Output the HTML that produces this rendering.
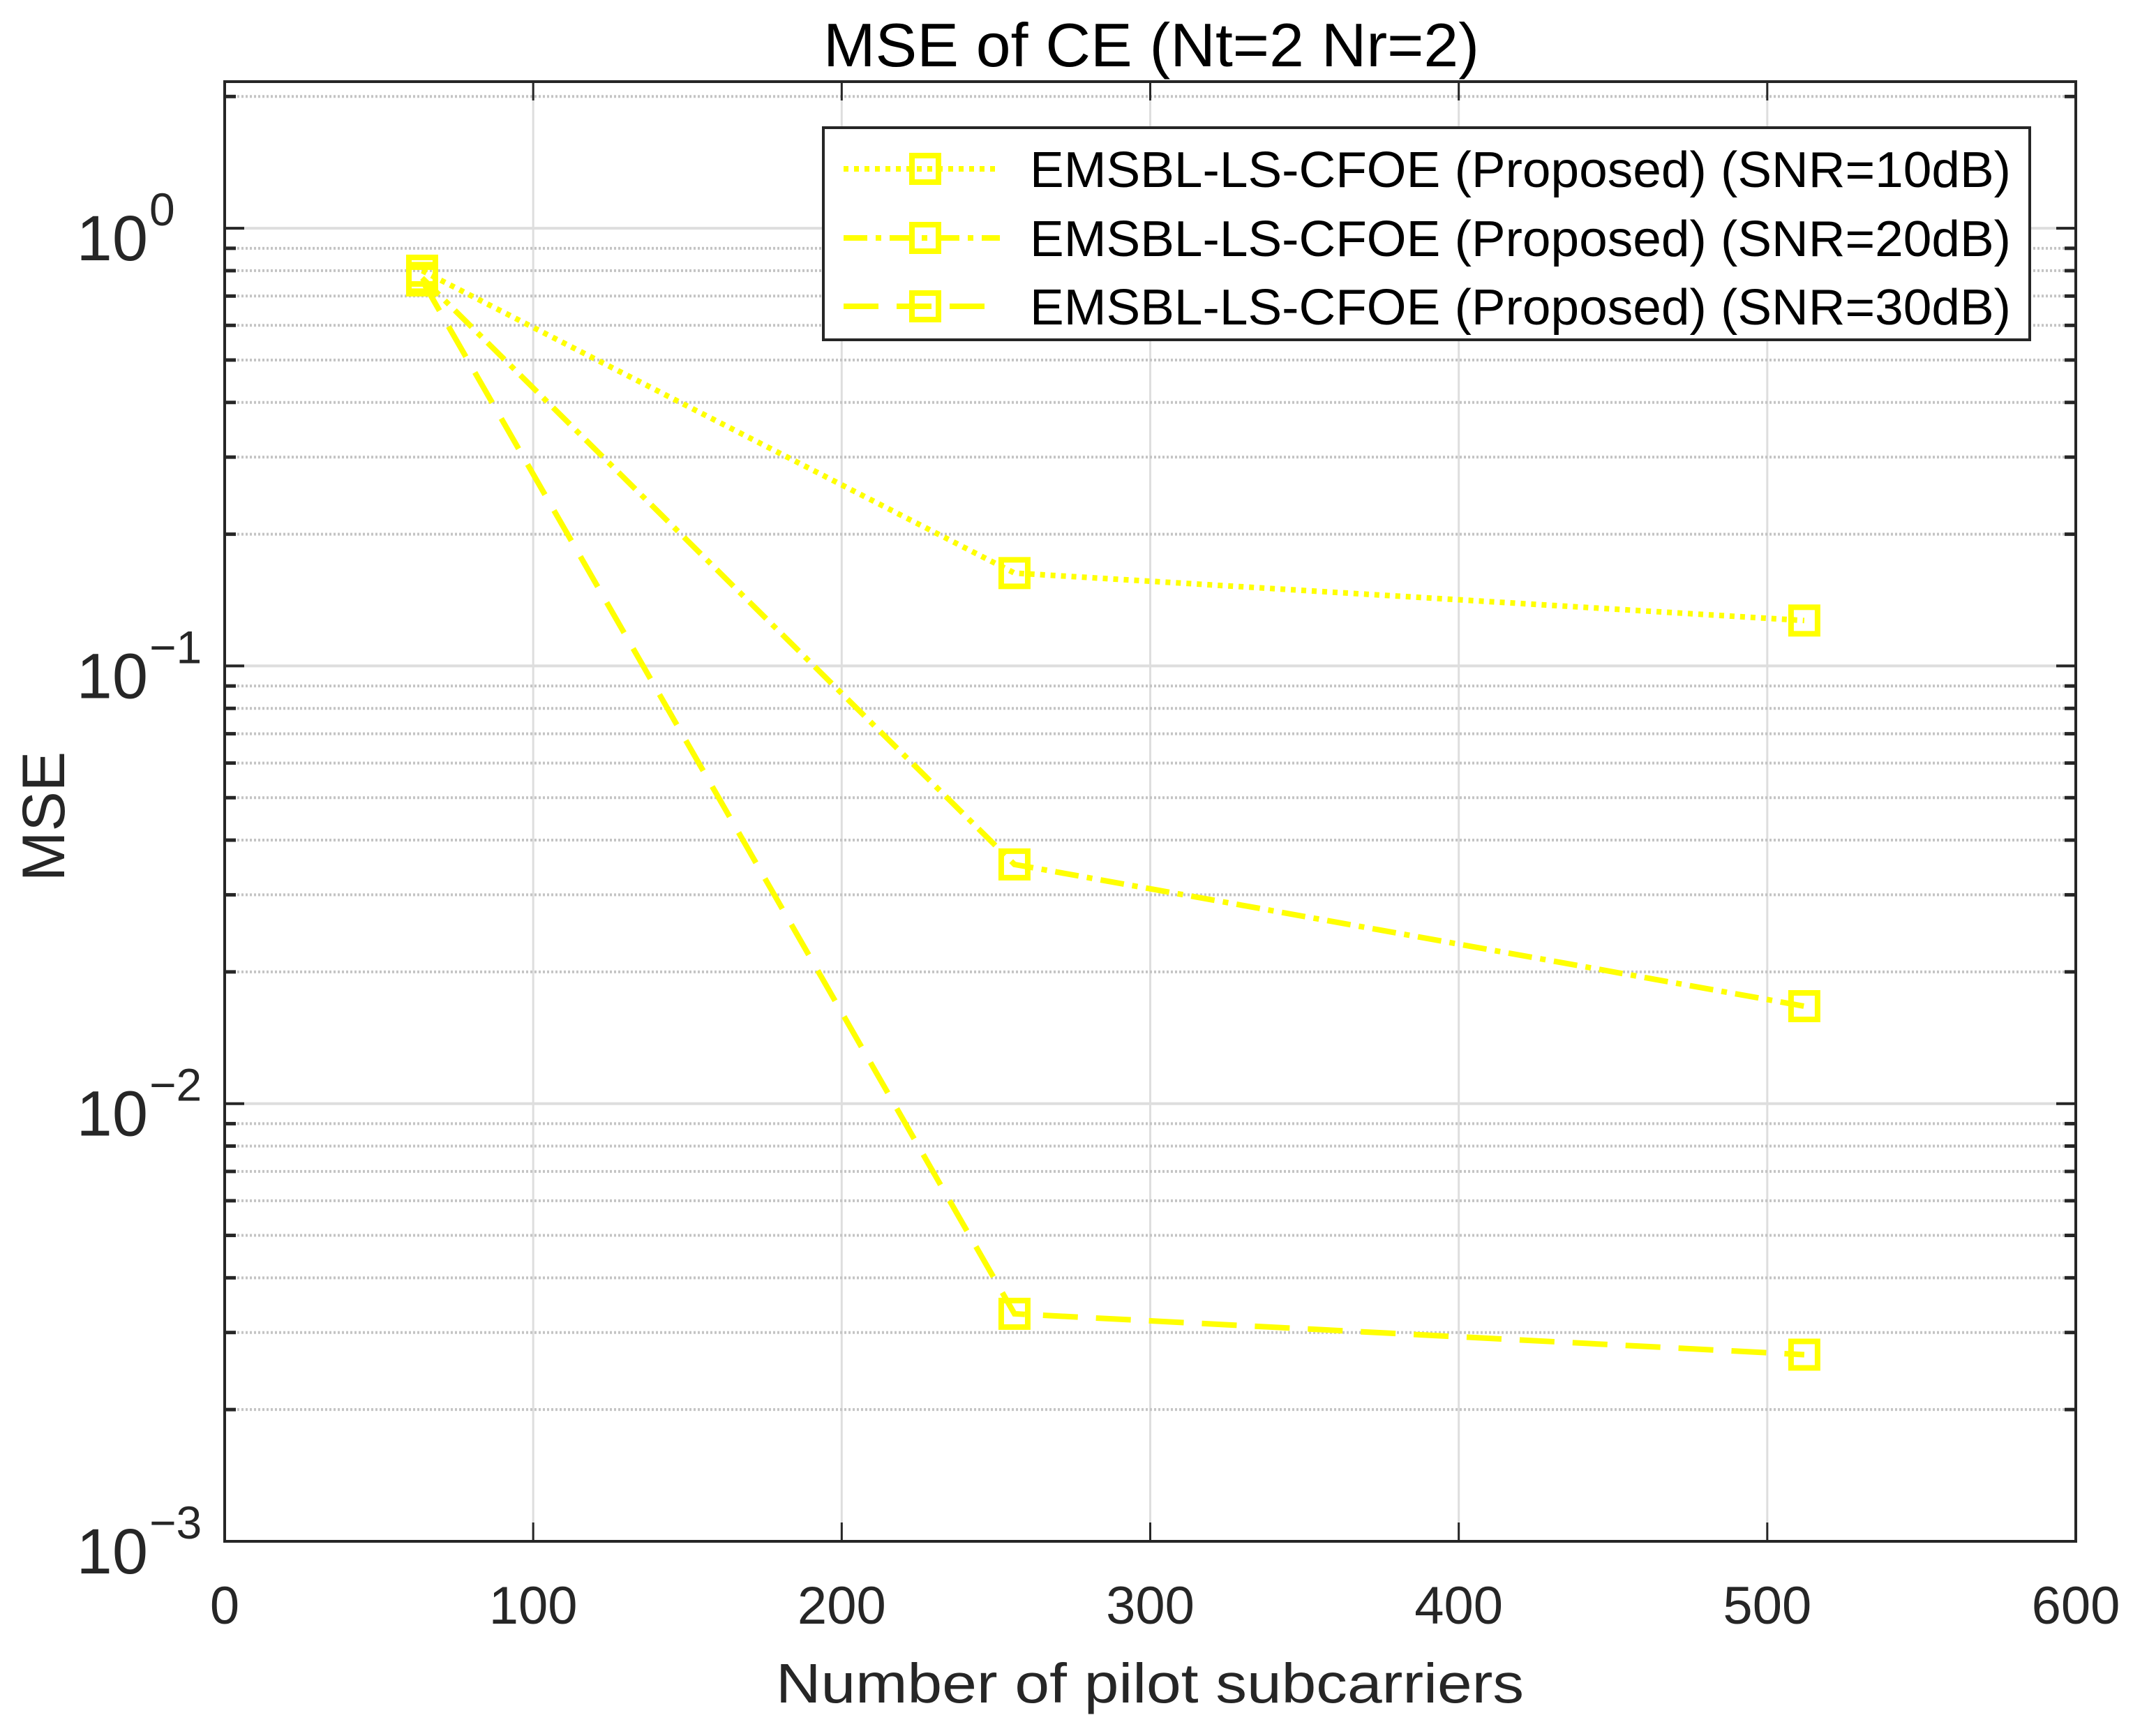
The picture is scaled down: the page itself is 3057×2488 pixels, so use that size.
<!DOCTYPE html>
<html><head><meta charset="utf-8"><style>
html,body{margin:0;padding:0;background:#fff;}
svg{display:block;font-family:"Liberation Sans",Arial,sans-serif;}
</style></head><body>
<svg id="chart" width="3057" height="2488" viewBox="0 0 3057 2488" xmlns="http://www.w3.org/2000/svg">
<rect x="0" y="0" width="3057" height="2488" fill="#fff"/>
<g id="grid"></g>
<g id="series"></g>
<g id="axes"></g>
<text x="1650" y="95" font-size="88" text-anchor="middle" textLength="940" lengthAdjust="spacingAndGlyphs" fill="#000">MSE of CE (Nt=2 Nr=2)</text>
<text x="1648" y="2440" font-size="80" text-anchor="middle" textLength="1072" lengthAdjust="spacingAndGlyphs" fill="#262626">Number of pilot subcarriers</text>
<text x="0" y="0" font-size="86" text-anchor="middle" fill="#262626" transform="translate(92,1170) rotate(-90)">MSE</text>
<g id="legend"></g>
</svg>
<script>
const xCategories = [64, 256, 512];
const seriesNames = ['EMSBL-LS-CFOE (Proposed) (SNR=10dB)','EMSBL-LS-CFOE (Proposed) (SNR=20dB)','EMSBL-LS-CFOE (Proposed) (SNR=30dB)'];
const snr10 = [0.80, 0.163, 0.127];
const snr20 = [0.77, 0.0352, 0.0167];
const snr30 = [0.76, 0.00331, 0.00267];
const xTicks = [0, 100, 200, 300, 400, 500, 600];
const yExponents = [-3, -2, -1, 0];

const NS='http://www.w3.org/2000/svg';
const L=322, R=2975, T=117, B=2209;
const yMinLog=-3, yMaxLog=0.335;
function sx(v){return L+(v-0)/(600-0)*(R-L);}
function sy(v){return B-(Math.log10(v)-yMinLog)/(yMaxLog-yMinLog)*(B-T);}
function mk(tag,attrs,parent){const e=document.createElementNS(NS,tag);for(const k in attrs)e.setAttribute(k,attrs[k]);parent.appendChild(e);return e;}
const grid=document.getElementById('grid'), axes=document.getElementById('axes'), ser=document.getElementById('series'), leg=document.getElementById('legend');

xTicks.forEach(t=>{
  const x=sx(t);
  if(t>0&&t<600){const g=mk('line',{x1:x,x2:x,y1:T,y2:B,stroke:'#dedede','stroke-width':3},grid);
  
  }
  mk('line',{x1:x,x2:x,y1:B,y2:B-27,stroke:'#262626','stroke-width':3},axes);
  mk('line',{x1:x,x2:x,y1:T,y2:T+27,stroke:'#262626','stroke-width':3},axes);
  const tx=mk('text',{x:x,y:2327,'font-size':76,'text-anchor':'middle',fill:'#262626'},axes);
  tx.textContent=t;
  
  
});
for(let e=-3;e<=0;e++){
  for(let m=1;m<=9;m++){
    const v=m*Math.pow(10,e); const y=sy(v);
    if(y<T-1||y>B+1)continue;
    if(m===1){
      if(e>-3){const g=mk('line',{x1:L,x2:R,y1:y,y2:y,stroke:'#dedede','stroke-width':4},grid);
      
      }
      mk('line',{x1:L,x2:L+28,y1:y,y2:y,stroke:'#262626','stroke-width':4},axes);
      mk('line',{x1:R,x2:R-28,y1:y,y2:y,stroke:'#262626','stroke-width':4},axes);
    } else {
      const g=mk('line',{x1:L,x2:R,y1:y,y2:y,stroke:'#c4c4c4','stroke-width':4,'stroke-dasharray':'3 3'},grid);
      
      
      mk('line',{x1:L,x2:L+16,y1:y,y2:y,stroke:'#262626','stroke-width':5},axes);
      mk('line',{x1:R,x2:R-16,y1:y,y2:y,stroke:'#262626','stroke-width':5},axes);
    }
  }
}
yExponents.forEach(e=>{
  const y=sy(Math.pow(10,e));
  const t=mk('text',{x:212,y:y+46,'font-size':92,'text-anchor':'end',fill:'#262626'},axes);
  t.textContent='10';
  
  
  const s=mk('text',{x:214,y:y-4,'font-size':66,'text-anchor':'start',fill:'#262626'},axes);
  s.textContent=e===0?'0':'\u2212'+(-e);
  
  
});
const frame=mk('rect',{x:L,y:T,width:R-L,height:B-T,fill:'none',stroke:'#262626','stroke-width':4},axes);



const styles=[{dash:'7 8',name:'snr10'},{dash:'34 12 8 12',name:'snr20'},{dash:'50 26',name:'snr30'}];
const allSeries=[snr10,snr20,snr30];
allSeries.forEach((vals,i)=>{
  const pts=vals.map((v,j)=>sx(xCategories[j])+','+sy(v)).join(' ');
  const pl=mk('polyline',{points:pts,fill:'none',stroke:'#ffff00','stroke-width':8,'stroke-dasharray':styles[i].dash},ser);
  
  
  vals.forEach((v,j)=>{
    const m=mk('rect',{x:sx(xCategories[j])-19,y:sy(v)-19,width:38,height:38,fill:'none',stroke:'#ffff00','stroke-width':8},ser);
    
    
  });
});

const lb=mk('rect',{x:1180,y:183,width:1729,height:304,fill:'#fff',stroke:'#262626','stroke-width':4},leg);


const rowsY=[242,341,439];
seriesNames.forEach((n,i)=>{
  const y=rowsY[i];
  const ln=mk('line',{x1:1209,x2:1433,y1:y,y2:y,stroke:'#ffff00','stroke-width':8,'stroke-dasharray':styles[i].dash},leg);
  
  
  const mr=mk('rect',{x:1307,y:y-19,width:38,height:38,fill:'none',stroke:'#ffff00','stroke-width':8},leg);
  
  
  const t=mk('text',{x:1476,y:y+26,'font-size':72,fill:'#000',textLength:1406,lengthAdjust:'spacingAndGlyphs'},leg);
  t.textContent=n;
  
  
});
</script>
</body></html>
